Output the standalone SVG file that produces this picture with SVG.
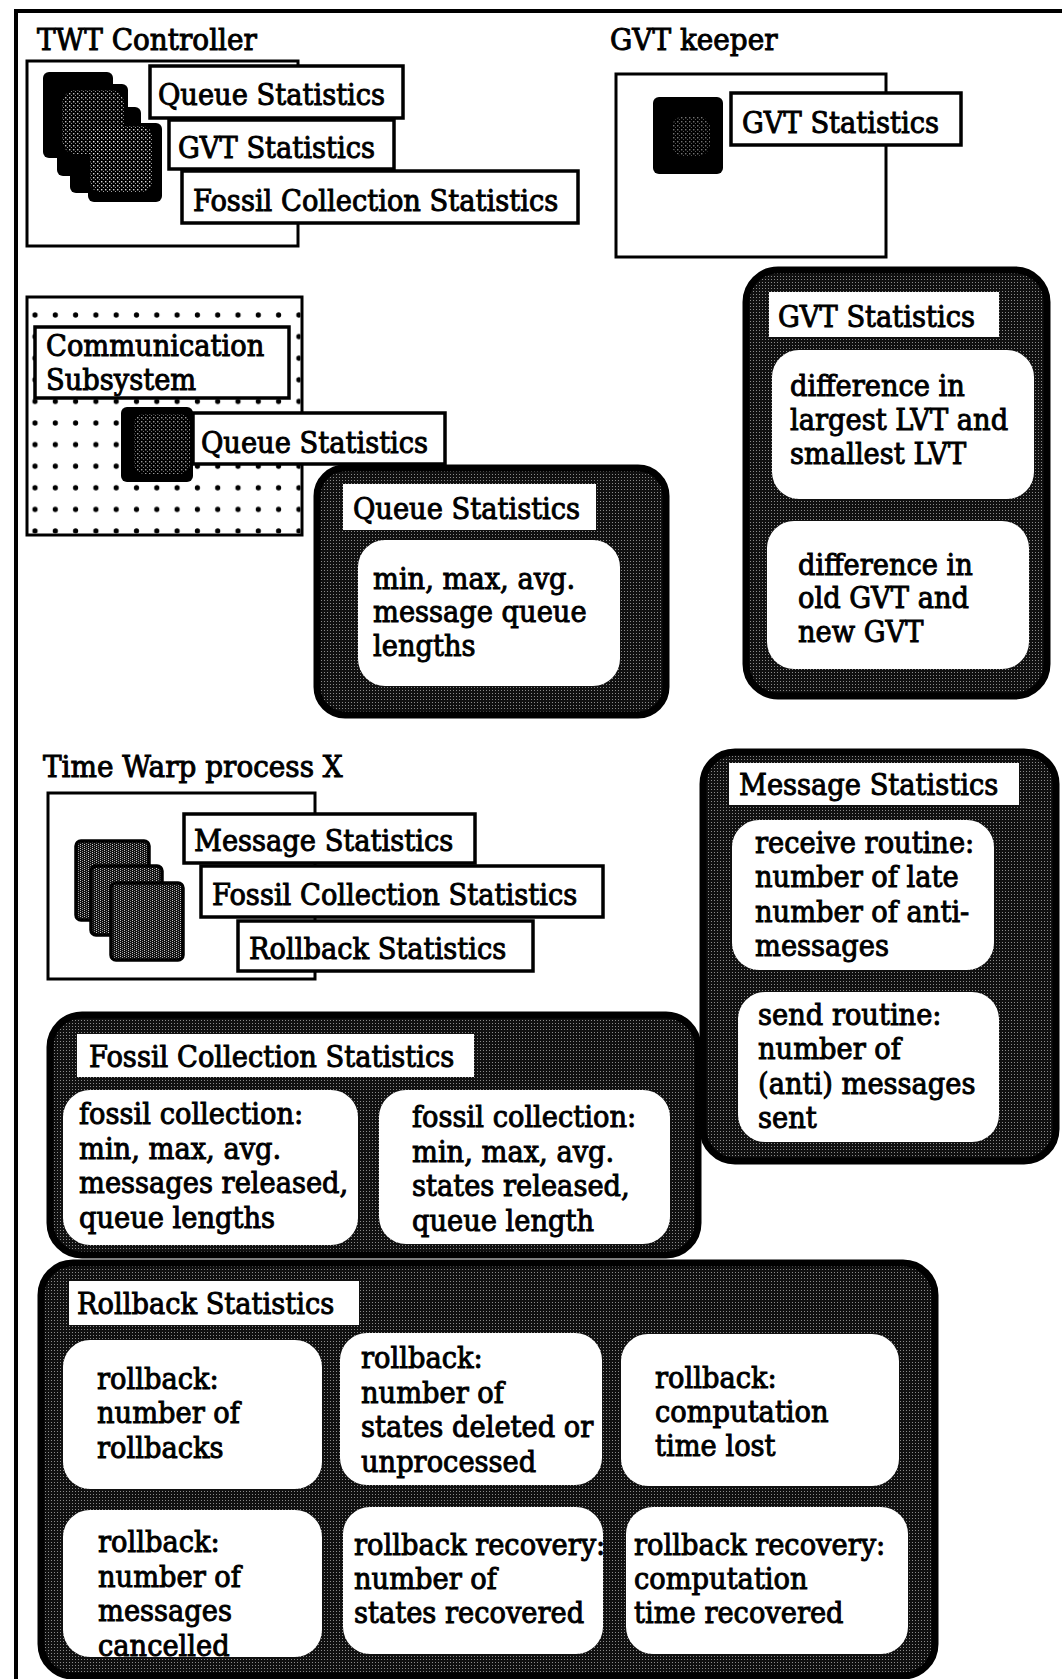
<svg xmlns="http://www.w3.org/2000/svg" width="1062" height="1679" viewBox="0 0 1062 1679">
  <defs>
    <!-- coarse halftone used for the dark statistic panels -->
    <pattern id="dither" width="3" height="3" patternUnits="userSpaceOnUse">
      <rect width="3" height="3" fill="#101010"/>
      <rect x="0" y="0" width="1" height="1" fill="#8a8a8a"/>
    </pattern>
    <!-- fine dotted halftone inside the process icons -->
    <pattern id="dots" width="4" height="4" patternUnits="userSpaceOnUse">
      <rect width="4" height="4" fill="#000"/>
      <rect x="1" y="1" width="1.4" height="1.4" fill="#fff"/>
      <rect x="3" y="3" width="1" height="1" fill="#bbb"/>
    </pattern>
    <!-- cross-hatched halftone for the Time Warp process icons -->
    <pattern id="hatch" width="4" height="4" patternUnits="userSpaceOnUse">
      <rect width="4" height="4" fill="#111"/>
      <rect x="0" y="0" width="1" height="1" fill="#ccc"/>
      <rect x="2" y="1" width="1" height="1" fill="#999"/>
      <rect x="0" y="2" width="1" height="1" fill="#bbb"/>
      <rect x="2" y="3" width="1" height="1" fill="#888"/>
    </pattern>
    <!-- regular dot grid of the communication subsystem -->
    <pattern id="grid" x="24.85" y="304.2" width="20.3" height="21.6" patternUnits="userSpaceOnUse">
      <circle cx="10.15" cy="10.8" r="2.6" fill="#000"/>
    </pattern>
  </defs>
  <style>
    .t { font-family: "DejaVu Serif", "Liberation Serif", serif; font-size: 30px; fill: #000; stroke: #000; stroke-width: 1px; }
    .win { fill: #fff; stroke: #000; stroke-width: 3; }
    .lbl { fill: #fff; stroke: #000; stroke-width: 3.5; }
    .dark { fill: url(#dither); stroke: #000; stroke-width: 7; }
    .card { fill: #fff; }
    .icon { fill: #000; }
    .ht { fill: url(#dots); }
    .hx { fill: url(#hatch); stroke: #000; stroke-width: 3.5; }
  </style>

  <rect width="1062" height="1679" fill="#fff"/>

  <!-- page frame -->
  <path d="M16 1679 V11 H1062" fill="none" stroke="#000" stroke-width="4"/>

  <!-- TWT controller -->
  <g id="twt-controller">
    <text class="t" transform="translate(37 50) scale(.93 1)">TWT Controller</text>
    <rect class="win" x="27" y="61" width="271" height="185"/>
    <rect class="icon" x="43" y="72" width="70" height="86" rx="6"/>
    <rect class="icon" x="57" y="84" width="71" height="92" rx="6"/>
    <rect class="icon" x="70" y="107" width="71" height="86" rx="6"/>
    <rect class="icon" x="88" y="123" width="74" height="79" rx="6"/>
    <rect class="ht" x="62" y="90" width="62" height="64" rx="14" opacity=".75"/>
    <rect class="ht" x="90" y="126" width="62" height="66" rx="10" opacity=".85"/>
    <g id="twt-queue-stats">
      <rect class="lbl" x="150" y="66" width="253" height="52"/>
      <text class="t" transform="translate(158 105) scale(.91 1)">Queue Statistics</text>
    </g>
    <g id="twt-gvt-stats">
      <rect class="lbl" x="169" y="120" width="225" height="49"/>
      <text class="t" transform="translate(178 158) scale(.91 1)">GVT Statistics</text>
    </g>
    <g id="twt-fossil-stats">
      <rect class="lbl" x="182" y="171" width="396" height="52"/>
      <text class="t" transform="translate(193 211) scale(.91 1)">Fossil Collection Statistics</text>
    </g>
  </g>

  <!-- GVT keeper -->
  <g id="gvt-keeper">
    <text class="t" transform="translate(610 50) scale(.93 1)">GVT keeper</text>
    <rect class="win" x="616" y="74" width="270" height="183"/>
    <rect class="icon" x="653" y="97" width="70" height="77" rx="6"/>
    <rect class="ht" x="672" y="116" width="38" height="40" rx="12" opacity=".45"/>
    <g id="keeper-gvt-stats">
      <rect class="lbl" x="731" y="93" width="230" height="52"/>
      <text class="t" transform="translate(742 133) scale(.91 1)">GVT Statistics</text>
    </g>
  </g>

  <!-- Communication subsystem -->
  <g id="comm-subsystem">
    <rect x="27" y="297" width="275" height="238" fill="#fff" stroke="#000" stroke-width="3"/>
    <rect x="28.5" y="298.5" width="272" height="235" fill="url(#grid)"/>
    <rect class="lbl" x="35" y="327" width="254" height="71"/>
    <text class="t" transform="translate(46 356) scale(.91 1)"><tspan x="0">Communication</tspan><tspan x="0" dy="34">Subsystem</tspan></text>
    <rect class="icon" x="121" y="407" width="72" height="75" rx="6"/>
    <rect class="ht" x="134" y="414" width="56" height="60" rx="10" opacity=".6"/>
    <g id="comm-queue-stats">
      <rect class="lbl" x="193" y="413" width="252" height="51"/>
      <text class="t" transform="translate(201 453) scale(.91 1)">Queue Statistics</text>
    </g>
  </g>

  <!-- Queue statistics panel -->
  <g id="queue-stats-panel">
    <rect class="dark" x="317" y="468" width="349" height="247" rx="28"/>
    <rect class="card" x="343" y="484" width="253" height="46"/>
    <text class="t" transform="translate(353 519) scale(.91 1)">Queue Statistics</text>
    <rect class="card" x="358" y="540" width="262" height="146" rx="27"/>
    <text class="t" transform="translate(373 589) scale(.91 1)"><tspan x="0">min, max, avg.</tspan><tspan x="0" dy="33.5">message queue</tspan><tspan x="0" dy="33.5">lengths</tspan></text>
  </g>

  <!-- GVT statistics panel -->
  <g id="gvt-stats-panel">
    <rect class="dark" x="746" y="270" width="301" height="426" rx="32"/>
    <rect class="card" x="769" y="292" width="230" height="45"/>
    <text class="t" transform="translate(778 327) scale(.91 1)">GVT Statistics</text>
    <rect class="card" x="772" y="350" width="262" height="149" rx="27"/>
    <text class="t" transform="translate(790 396) scale(.91 1)"><tspan x="0">difference in</tspan><tspan x="0" dy="34">largest LVT and</tspan><tspan x="0" dy="34">smallest LVT</tspan></text>
    <rect class="card" x="767" y="521" width="262" height="148" rx="27"/>
    <text class="t" transform="translate(798 575) scale(.91 1)"><tspan x="0">difference in</tspan><tspan x="0" dy="33.5">old GVT and</tspan><tspan x="0" dy="33.5">new GVT</tspan></text>
  </g>

  <!-- Time Warp process -->
  <g id="time-warp-process">
    <text class="t" transform="translate(43 777) scale(.93 1)">Time Warp process X</text>
    <rect class="win" x="48" y="793" width="267" height="186"/>
    <rect class="hx" x="76" y="841" width="73" height="79" rx="5"/>
    <rect class="hx" x="91" y="866" width="71" height="69" rx="5"/>
    <rect class="hx" x="111" y="883" width="72" height="77" rx="5"/>
    <g id="tw-message-stats">
      <rect class="lbl" x="184" y="814" width="291" height="49"/>
      <text class="t" transform="translate(194 851) scale(.91 1)">Message Statistics</text>
    </g>
    <g id="tw-fossil-stats">
      <rect class="lbl" x="201" y="866" width="402" height="51"/>
      <text class="t" transform="translate(212 905) scale(.91 1)">Fossil Collection Statistics</text>
    </g>
    <g id="tw-rollback-stats">
      <rect class="lbl" x="238" y="921" width="295" height="50"/>
      <text class="t" transform="translate(249 959) scale(.91 1)">Rollback Statistics</text>
    </g>
  </g>

  <!-- Message statistics panel -->
  <g id="message-stats-panel">
    <rect class="dark" x="703" y="752" width="353" height="409" rx="32"/>
    <rect class="card" x="729" y="763" width="290" height="42"/>
    <text class="t" transform="translate(739 795) scale(.91 1)">Message Statistics</text>
    <rect class="card" x="732" y="820" width="262" height="150" rx="27"/>
    <text class="t" transform="translate(755 853) scale(.91 1)"><tspan x="0">receive routine:</tspan><tspan x="0" dy="34.3">number of late</tspan><tspan x="0" dy="34.3">number of anti-</tspan><tspan x="0" dy="34.3">messages</tspan></text>
    <rect class="card" x="738" y="992" width="261" height="150" rx="27"/>
    <text class="t" transform="translate(758 1025) scale(.91 1)"><tspan x="0">send routine:</tspan><tspan x="0" dy="34.3">number of</tspan><tspan x="0" dy="34.3">(anti) messages</tspan><tspan x="0" dy="34.3">sent</tspan></text>
  </g>

  <!-- Fossil collection statistics panel -->
  <g id="fossil-stats-panel">
    <rect class="dark" x="50" y="1015" width="648" height="240" rx="32"/>
    <rect class="card" x="77" y="1034" width="397" height="43"/>
    <text class="t" transform="translate(89 1067) scale(.91 1)">Fossil Collection Statistics</text>
    <rect class="card" x="63" y="1090" width="295" height="155" rx="27"/>
    <text class="t" transform="translate(79 1124) scale(.91 1)"><tspan x="0">fossil collection:</tspan><tspan x="0" dy="34.7">min, max, avg.</tspan><tspan x="0" dy="34.7">messages released,</tspan><tspan x="0" dy="34.7">queue lengths</tspan></text>
    <rect class="card" x="379" y="1090" width="291" height="154" rx="27"/>
    <text class="t" transform="translate(412 1127) scale(.91 1)"><tspan x="0">fossil collection:</tspan><tspan x="0" dy="34.7">min, max, avg.</tspan><tspan x="0" dy="34.7">states released,</tspan><tspan x="0" dy="34.7">queue length</tspan></text>
  </g>

  <!-- Rollback statistics panel -->
  <g id="rollback-stats-panel">
    <rect class="dark" x="41" y="1263" width="894" height="413" rx="32"/>
    <rect class="card" x="69" y="1281" width="290" height="44"/>
    <text class="t" transform="translate(77 1314) scale(.91 1)">Rollback Statistics</text>
    <rect class="card" x="63" y="1340" width="259" height="149" rx="27"/>
    <text class="t" transform="translate(97 1389) scale(.91 1)"><tspan x="0">rollback:</tspan><tspan x="0" dy="34.5">number of</tspan><tspan x="0" dy="34.5">rollbacks</tspan></text>
    <rect class="card" x="340" y="1333" width="262" height="152" rx="27"/>
    <text class="t" transform="translate(361 1368) scale(.91 1)"><tspan x="0">rollback:</tspan><tspan x="0" dy="34.7">number of</tspan><tspan x="0" dy="34.7">states deleted or</tspan><tspan x="0" dy="34.7">unprocessed</tspan></text>
    <rect class="card" x="621" y="1334" width="278" height="152" rx="27"/>
    <text class="t" transform="translate(655 1388) scale(.91 1)"><tspan x="0">rollback:</tspan><tspan x="0" dy="34">computation</tspan><tspan x="0" dy="34">time lost</tspan></text>
    <rect class="card" x="63" y="1510" width="259" height="147" rx="27"/>
    <text class="t" transform="translate(98 1552) scale(.91 1)"><tspan x="0">rollback:</tspan><tspan x="0" dy="34.7">number of</tspan><tspan x="0" dy="34.7">messages</tspan><tspan x="0" dy="34.7">cancelled</tspan></text>
    <rect class="card" x="343" y="1507" width="260" height="147" rx="27"/>
    <text class="t" transform="translate(354 1555) scale(.91 1)"><tspan x="0">rollback recovery:</tspan><tspan x="0" dy="34">number of</tspan><tspan x="0" dy="34">states recovered</tspan></text>
    <rect class="card" x="626" y="1507" width="282" height="147" rx="27"/>
    <text class="t" transform="translate(634 1555) scale(.91 1)"><tspan x="0">rollback recovery:</tspan><tspan x="0" dy="34">computation</tspan><tspan x="0" dy="34">time recovered</tspan></text>
  </g>

  <!-- no connectors in this figure -->
  <g id="connectors"/>
</svg>
